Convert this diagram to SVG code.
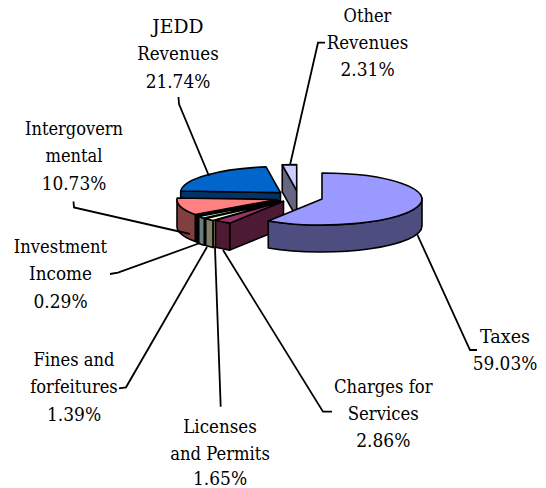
<svg xmlns="http://www.w3.org/2000/svg" width="546" height="488" viewBox="0 0 546 488">
<style>
.lbl{font-family:'DejaVu Serif','Liberation Serif',serif;font-size:19px;fill:#000;text-anchor:middle}
.f{stroke:#000;stroke-width:1.6;stroke-linejoin:round}
.ld{fill:none;stroke:#000;stroke-width:1.8;stroke-linejoin:miter}
</style>
<rect width="546" height="488" fill="#fff"/>
<g id="slice-jedd">
<path class="f" fill="#003366" d="M280.5 192.6 L180.68 191.05 L180.68 218.05 L280.5 219.6 Z"/>
<path class="f" fill="#0066CC" d="M280.5 192.6 L180.68 191.05 A100 26 0 0 1 266.04 166.87 Z"/>
</g>
<g id="slice-other">
<path class="f" fill="#666680" d="M296.7 190.6 L282.24 164.87 L282.24 191.87 L296.7 217.6 Z"/>
<path class="f" fill="#CCCCFF" d="M296.7 190.6 L282.24 164.87 A100 26 0 0 1 296.7 164.6 Z"/>
</g>
<g id="slice-intergov">
<path class="f" fill="#804040" d="M277 199.5 L195.29 214.49 L195.29 241.49 L277 226.5 Z"/>
<path class="f" fill="#804040" d="M195.29 214.49 A100 26 0 0 1 177 199.5 L177 226.5 A100 26 0 0 0 195.29 241.49 Z"/>
<path class="f" fill="#FF8080" d="M277 199.5 L195.29 214.49 A100 26 0 0 1 177.18 197.95 Z"/>
</g>
<g id="slice-investment">
<path class="f" fill="#330033" d="M278.6 200.7 L197.96 216.08 L197.96 243.08 L278.6 227.7 Z"/>
<path class="f" fill="#330033" d="M197.96 216.08 A100 26 0 0 1 196.89 215.69 L196.89 242.69 A100 26 0 0 0 197.96 243.08 Z"/>
<path class="f" fill="#660066" d="M278.6 200.7 L197.96 216.08 A100 26 0 0 1 196.89 215.69 Z"/>
</g>
<g id="slice-fines">
<path class="f" fill="#668080" d="M279.4 201 L204.23 218.15 L204.23 245.15 L279.4 228 Z"/>
<path class="f" fill="#668080" d="M204.23 218.15 A100 26 0 0 1 198.76 216.38 L198.76 243.38 A100 26 0 0 0 204.23 245.15 Z"/>
<path class="f" fill="#CCFFFF" d="M279.4 201 L204.23 218.15 A100 26 0 0 1 198.76 216.38 Z"/>
</g>
<g id="slice-licenses">
<path class="f" fill="#808066" d="M280.9 201.4 L212.94 220.47 L212.94 247.47 L280.9 228.4 Z"/>
<path class="f" fill="#808066" d="M212.94 220.47 A100 26 0 0 1 205.73 218.55 L205.73 245.55 A100 26 0 0 0 212.94 247.47 Z"/>
<path class="f" fill="#FFFFCC" d="M280.9 201.4 L212.94 220.47 A100 26 0 0 1 205.73 218.55 Z"/>
</g>
<g id="slice-charges">
<path class="f" fill="#4D1A33" d="M283.5 201.2 L229.76 223.13 L229.76 250.13 L283.5 228.2 Z"/>
<path class="f" fill="#4D1A33" d="M229.76 223.13 A100 26 0 0 1 215.54 220.27 L215.54 247.27 A100 26 0 0 0 229.76 250.13 Z"/>
<path class="f" fill="#993366" d="M283.5 201.2 L229.76 223.13 A100 26 0 0 1 215.54 220.27 Z"/>
</g>
<g id="slice-taxes">
<path class="f" fill="#4D4D80" d="M422 199 A100 26 0 0 1 268.26 220.93 L268.26 247.93 A100 26 0 0 0 422 226 Z"/>
<path class="f" fill="#9999FF" d="M322 199 L322 173 A100 26 0 1 1 268.26 220.93 Z"/>
</g>
<g id="connectors">
<polyline class="ld" points="417,234 470,350 477,350"/>
<polyline class="ld" points="223,250 323,411.7 332,411.7"/>
<polyline class="ld" points="215,248 220.7,406.7"/>
<polyline class="ld" points="207,247 126,387.3 119,388.3"/>
<polyline class="ld" points="200,243 118,272.7 110,274"/>
<polyline class="ld" points="190,234 74,207.5 73.5,201.5"/>
<polyline class="ld" points="209,176 179,104 178.5,97"/>
<polyline class="ld" points="290,165 318,42.7 325,42.7"/>
</g>
<g id="labels">
<text class="lbl" x="178" y="32.5" textLength="51.3" lengthAdjust="spacingAndGlyphs">JEDD</text>
<text class="lbl" x="178" y="60" textLength="81.6" lengthAdjust="spacingAndGlyphs">Revenues</text>
<text class="lbl" x="178" y="87.5" textLength="64.7" lengthAdjust="spacingAndGlyphs">21.74%</text>
<text class="lbl" x="367.5" y="21.5" textLength="47.8" lengthAdjust="spacingAndGlyphs">Other</text>
<text class="lbl" x="367.5" y="48.5" textLength="81.6" lengthAdjust="spacingAndGlyphs">Revenues</text>
<text class="lbl" x="367.5" y="76" textLength="54.2" lengthAdjust="spacingAndGlyphs">2.31%</text>
<text class="lbl" x="74" y="134.5" textLength="98" lengthAdjust="spacingAndGlyphs">Intergovern</text>
<text class="lbl" x="74" y="162" textLength="57.2" lengthAdjust="spacingAndGlyphs">mental</text>
<text class="lbl" x="74" y="189.5" textLength="64.7" lengthAdjust="spacingAndGlyphs">10.73%</text>
<text class="lbl" x="60.5" y="252.7" textLength="93.3" lengthAdjust="spacingAndGlyphs">Investment</text>
<text class="lbl" x="60.5" y="280" textLength="63" lengthAdjust="spacingAndGlyphs">Income</text>
<text class="lbl" x="60.5" y="307.5" textLength="54.2" lengthAdjust="spacingAndGlyphs">0.29%</text>
<text class="lbl" x="74" y="365.7" textLength="81.1" lengthAdjust="spacingAndGlyphs">Fines and</text>
<text class="lbl" x="74" y="393.3" textLength="87.5" lengthAdjust="spacingAndGlyphs">forfeitures</text>
<text class="lbl" x="74" y="420.5" textLength="54.2" lengthAdjust="spacingAndGlyphs">1.39%</text>
<text class="lbl" x="220" y="433.3" textLength="73.5" lengthAdjust="spacingAndGlyphs">Licenses</text>
<text class="lbl" x="220" y="460" textLength="99.7" lengthAdjust="spacingAndGlyphs">and Permits</text>
<text class="lbl" x="220" y="484.5" textLength="54.2" lengthAdjust="spacingAndGlyphs">1.65%</text>
<text class="lbl" x="383.3" y="393.3" textLength="98.6" lengthAdjust="spacingAndGlyphs">Charges for</text>
<text class="lbl" x="383.3" y="420" textLength="71.1" lengthAdjust="spacingAndGlyphs">Services</text>
<text class="lbl" x="383.3" y="446.7" textLength="54.2" lengthAdjust="spacingAndGlyphs">2.86%</text>
<text class="lbl" x="505" y="343.3" textLength="50.1" lengthAdjust="spacingAndGlyphs">Taxes</text>
<text class="lbl" x="505" y="370" textLength="64.7" lengthAdjust="spacingAndGlyphs">59.03%</text>
</g>
</svg>
